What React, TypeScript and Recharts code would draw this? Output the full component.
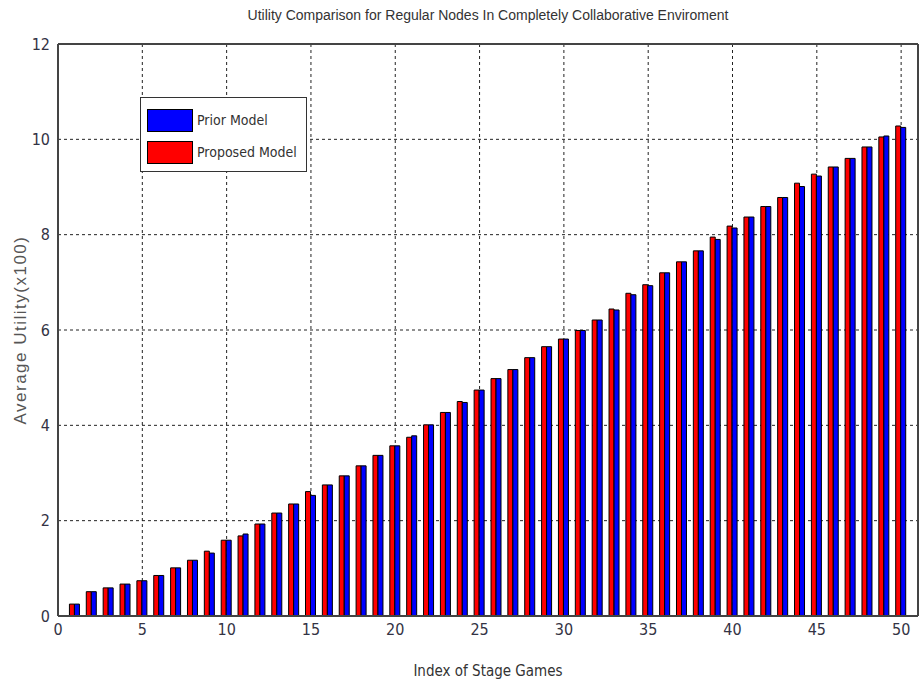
import React from 'react';
import {
    BarChart,
    Bar,
    XAxis,
    YAxis,
    CartesianGrid,
    ReferenceLine
} from 'recharts';

// Index of stage game (1..50)
const stageIndex = [
    1, 2, 3, 4, 5, 6, 7, 8, 9, 10,
    11, 12, 13, 14, 15, 16, 17, 18, 19, 20,
    21, 22, 23, 24, 25, 26, 27, 28, 29, 30,
    31, 32, 33, 34, 35, 36, 37, 38, 39, 40,
    41, 42, 43, 44, 45, 46, 47, 48, 49, 50
];

// Proposed model (red)
const proposedUtility = [
    0.25, 0.51, 0.59, 0.67, 0.74, 0.85, 1.01, 1.17, 1.36, 1.59,
    1.68, 1.93, 2.16, 2.35, 2.61, 2.75, 2.94, 3.15, 3.37, 3.57,
    3.75, 4.01, 4.27, 4.5, 4.74, 4.98, 5.17, 5.42, 5.65, 5.81,
    5.99, 6.21, 6.44, 6.77, 6.95, 7.2, 7.43, 7.66, 7.95, 8.18,
    8.37, 8.59, 8.78, 9.08, 9.27, 9.42, 9.6, 9.84, 10.05, 10.28
];

// Prior model (blue)
const priorUtility = [
    0.25, 0.51, 0.59, 0.67, 0.74, 0.85, 1.01, 1.17, 1.32, 1.59,
    1.72, 1.93, 2.16, 2.35, 2.53, 2.75, 2.94, 3.15, 3.37, 3.57,
    3.78, 4.01, 4.27, 4.48, 4.74, 4.98, 5.17, 5.42, 5.65, 5.81,
    5.99, 6.21, 6.42, 6.74, 6.93, 7.2, 7.43, 7.66, 7.9, 8.14,
    8.37, 8.59, 8.78, 9.01, 9.23, 9.42, 9.6, 9.84, 10.07, 10.25
];

const xTicks = [0, 5, 10, 15, 20, 25, 30, 35, 40, 45, 50];
const yTicks = [0, 2, 4, 6, 8, 10, 12];

const data = stageIndex.map((idx, i) => ({
    idx,
    proposed: proposedUtility[i],
    prior: priorUtility[i]
}));

const NARROW = '"DejaVu Sans Condensed", "Liberation Sans", sans-serif';

const legendItems = [
    { label: 'Prior Model', color: '#0000ff' },
    { label: 'Proposed Model', color: '#ff0000' }
];

const App: React.FC = () => {
    return (
        <div style={{ position: 'absolute', left: 0, top: 0, width: 921, height: 685, background: '#fff' }}>
            <div
                style={{
                    position: 'absolute',
                    left: 58,
                    top: 7,
                    width: 860,
                    textAlign: 'center',
                    fontFamily: '"Liberation Sans", sans-serif',
                    fontSize: 14,
                    color: '#333'
                }}
            >
                Utility Comparison for Regular Nodes In Completely Collaborative Enviroment
            </div>
            <BarChart
                width={921}
                height={685}
                data={data}
                margin={{ top: 44, right: 3, left: 0, bottom: 0 }}
                barGap={0}
            >
                <CartesianGrid stroke="#222" strokeDasharray="3 3" />
                <XAxis
                    type="number"
                    dataKey="idx"
                    domain={[0, 51]}
                    ticks={xTicks}
                    height={69}
                    tickLine={false}
                    axisLine={{ stroke: '#444', strokeWidth: 2 }}
                    tick={{ fontSize: 16, fill: '#334', fontFamily: NARROW }}
                    label={{
                        value: 'Index of Stage Games',
                        position: 'insideBottom',
                        offset: 9,
                        style: { fontSize: 15, fill: '#333', fontFamily: NARROW }
                    }}
                />
                <YAxis
                    type="number"
                    domain={[0, 12]}
                    ticks={yTicks}
                    width={58}
                    tickLine={false}
                    axisLine={{ stroke: '#444', strokeWidth: 2 }}
                    tick={{ fontSize: 16, fill: '#334', fontFamily: NARROW }}
                    label={{
                        value: 'Average Utility(x100)',
                        angle: -90,
                        position: 'insideLeft',
                        offset: 20,
                        style: {
                            fontSize: 17,
                            letterSpacing: 1.5,
                            fill: '#555',
                            fontFamily: '"Liberation Sans", Arial, sans-serif',
                            textAnchor: 'middle'
                        }
                    }}
                />
                <ReferenceLine y={12} stroke="#444" strokeWidth={2} />
                <ReferenceLine x={51} stroke="#444" strokeWidth={2} />
                <Bar dataKey="proposed" name="Proposed Model" fill="#ff0000" stroke="#000" strokeWidth={1} barSize={5} isAnimationActive={false} />
                <Bar dataKey="prior" name="Prior Model" fill="#0000ff" stroke="#000" strokeWidth={1} barSize={5} isAnimationActive={false} />
            </BarChart>
            <div
                style={{
                    position: 'absolute',
                    left: 140,
                    top: 97,
                    width: 167,
                    height: 75,
                    border: '1px solid #333',
                    background: '#fff',
                    boxSizing: 'border-box',
                    padding: '6px 0 0 6px'
                }}
            >
                {legendItems.map((item) => (
                    <div key={item.label} style={{ display: 'flex', alignItems: 'center', height: 32 }}>
                        <div
                            style={{
                                width: 46,
                                height: 23,
                                background: item.color,
                                border: '1px solid #000',
                                boxSizing: 'border-box'
                            }}
                        />
                        <span style={{ fontFamily: NARROW, fontSize: 14, color: '#333', marginLeft: 4, whiteSpace: 'nowrap' }}>
                            {item.label}
                        </span>
                    </div>
                ))}
            </div>
        </div>
    );
};

export default App;
